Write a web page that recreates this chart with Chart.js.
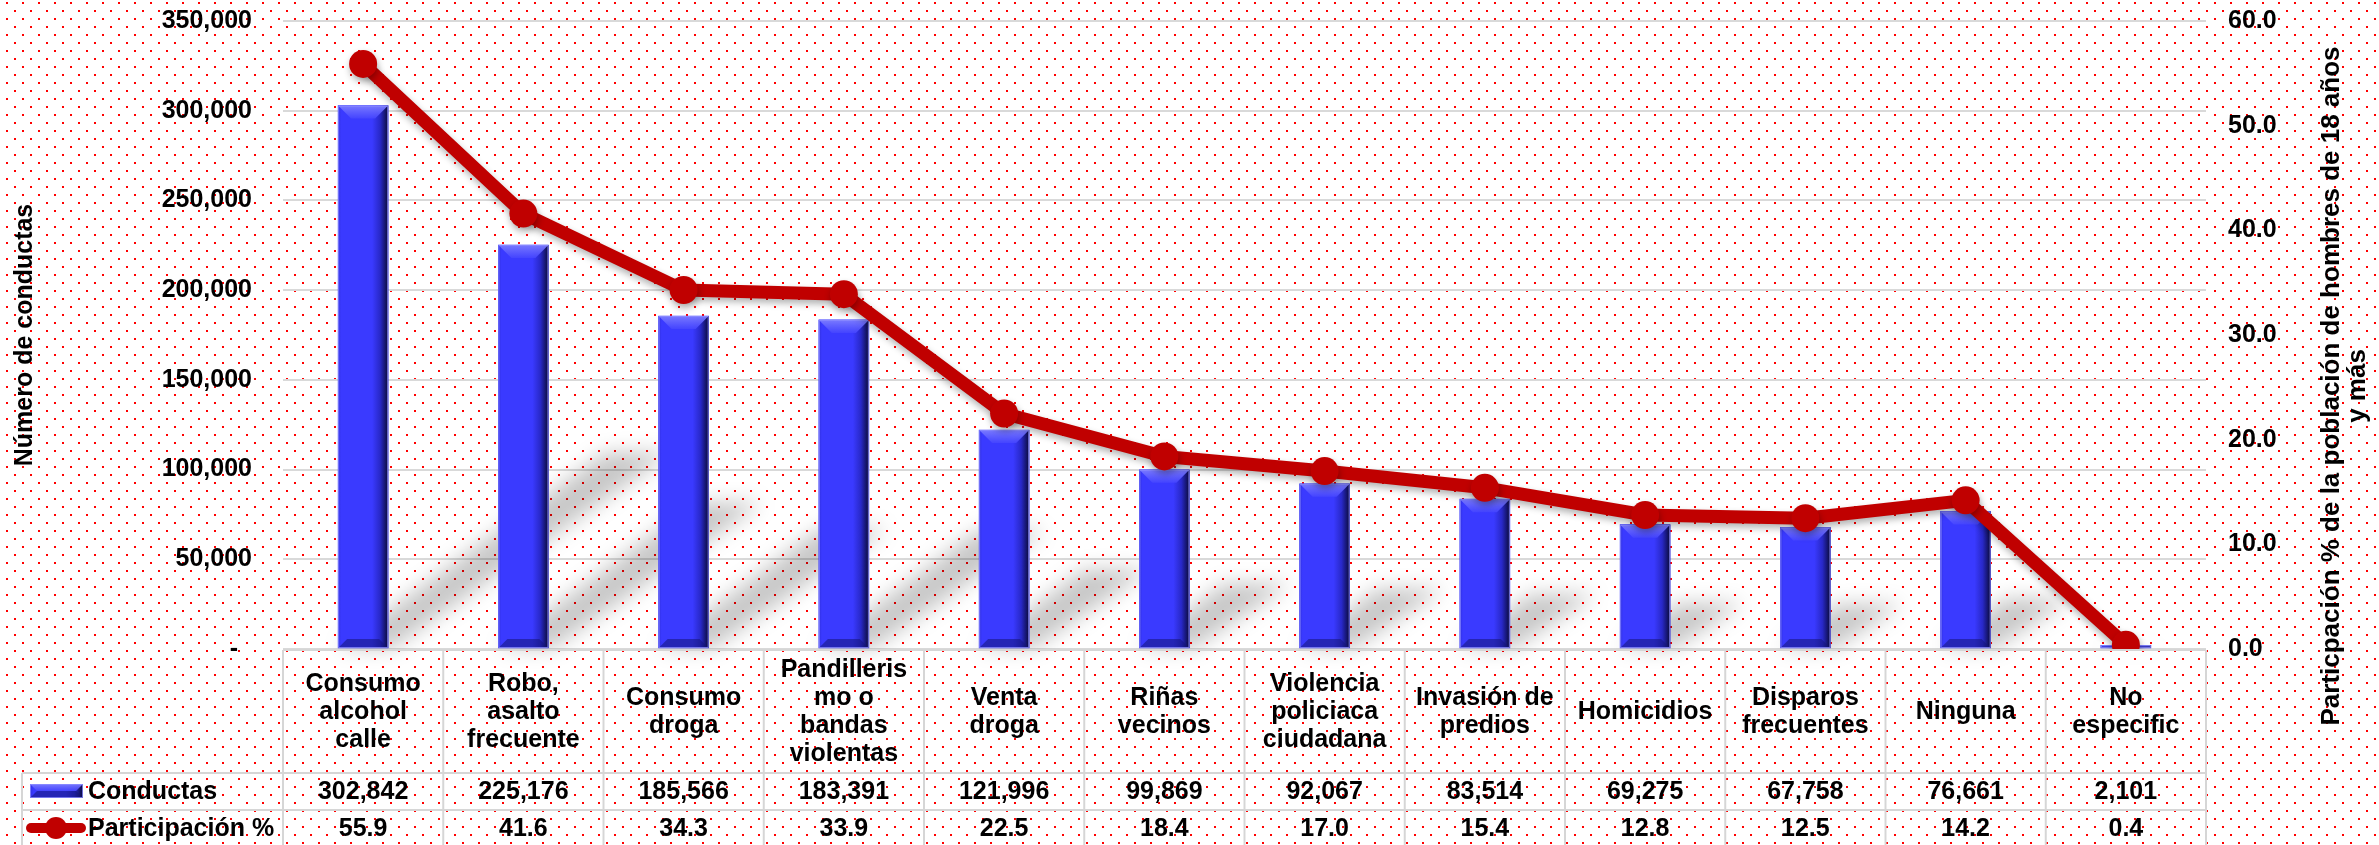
<!DOCTYPE html>
<html><head><meta charset="utf-8">
<script src="https://cdn.jsdelivr.net/npm/chart.js@4/dist/chart.umd.min.js"></script>
<style>html,body{margin:0;padding:0;background:#fff;overflow:hidden}#wrap{width:2379px;height:845px;position:relative}</style>
</head><body><div id="wrap"><canvas id="c" width="2379" height="845"></canvas></div>
<script>
// ---- data ----
const categories = [["Consumo","alcohol","calle"],["Robo,","asalto","frecuente"],["Consumo","droga"],["Pandilleris","mo o","bandas","violentas"],["Venta","droga"],["Riñas","vecinos"],["Violencia","policiaca","ciudadana"],["Invasión de","predios"],["Homicidios"],["Disparos","frecuentes"],["Ninguna"],["No","especific"]];
const conductas = [302842,225176,185566,183391,121996,99869,92067,83514,69275,67758,76661,2101];
const participacion = [55.9,41.6,34.3,33.9,22.5,18.4,17.0,15.4,12.8,12.5,14.2,0.4];
const leftTickLabels = ["-  ","50,000","100,000","150,000","200,000","250,000","300,000","350,000"];
const rightTickLabels = ["0.0","10.0","20.0","30.0","40.0","50.0","60.0"];
const seriesNames = ["Conductas","Participación %"];
const leftTitle = "Número de conductas";
const rightTitle = ["Particpación % de la población de hombres de 18 años","y más"];

const FONT = '"Liberation Sans", Arial, sans-serif';
const BOLD25 = 'bold 25px ' + FONT;
const BLUE = '#3a3aff';
const RED = '#c00000';

function bevelBar(ctx, left, top, w, h) {
  ctx.save();
  let g = ctx.createLinearGradient(left, 0, left + w, 0);
  g.addColorStop(0, '#3030e0');
  g.addColorStop(0.06, '#3a3aff');
  g.addColorStop(0.68, '#3a3aff');
  g.addColorStop(0.84, '#2828c8');
  g.addColorStop(1, '#0a0a38');
  ctx.fillStyle = g;
  ctx.fillRect(left, top, w, h);
  const b = Math.min(13, h / 2, w / 2);
  ctx.beginPath();
  ctx.moveTo(left, top); ctx.lineTo(left + w, top);
  ctx.lineTo(left + w - b, top + b); ctx.lineTo(left + b, top + b); ctx.closePath();
  let g2 = ctx.createLinearGradient(0, top, 0, top + b);
  g2.addColorStop(0, 'rgba(125,125,255,0.95)');
  g2.addColorStop(1, 'rgba(70,70,255,0.85)');
  ctx.fillStyle = g2; ctx.fill();
  const bb = Math.min(9, h / 2);
  ctx.beginPath();
  ctx.moveTo(left, top + h); ctx.lineTo(left + w, top + h);
  ctx.lineTo(left + w - bb, top + h - bb); ctx.lineTo(left + bb, top + h - bb); ctx.closePath();
  ctx.fillStyle = 'rgba(20,20,120,0.55)'; ctx.fill();
  ctx.strokeStyle = 'rgba(140,140,255,0.8)'; ctx.lineWidth = 1;
  ctx.strokeRect(left + 0.5, top + 0.5, w - 1, h - 1);
  ctx.restore();
}

const bgPlugin = {
  id: 'bg',
  beforeDraw(chart) {
    const ctx = chart.ctx;
    const pc = document.createElement('canvas'); pc.width = 16; pc.height = 16;
    const p = pc.getContext('2d');
    p.fillStyle = '#fff'; p.fillRect(0, 0, 16, 16);
    p.fillStyle = '#ff0000'; p.fillRect(6, 2, 2, 2); p.fillRect(14, 10, 2, 2);
    ctx.save();
    ctx.fillStyle = ctx.createPattern(pc, 'repeat');
    ctx.fillRect(0, 0, chart.width, chart.height);
    ctx.restore();
  }
};

const shadowPlugin = {
  id: 'shadows',
  beforeDatasetsDraw(chart) {
    const ctx = chart.ctx;
    const meta = chart.getDatasetMeta(0);
    ctx.save();
    ctx.filter = 'blur(10px)';
    ctx.fillStyle = 'rgba(0,0,0,0.22)';
    meta.data.forEach(el => {
      const {x, y, base, width} = el.getProps(['x', 'y', 'base', 'width'], true);
      const h = base - y;
      const l = x - width / 2, r = x + width / 2 + 4;
      const dx = 0.5 * h, dy = -0.36 * h;
      ctx.beginPath();
      ctx.moveTo(l, base); ctx.lineTo(r, base);
      ctx.lineTo(r + dx + 8, base + dy); ctx.lineTo(l + dx - 4, base + dy);
      ctx.closePath(); ctx.fill();
    });
    ctx.restore();
  },
  beforeDatasetDraw(chart, args) {
    const ctx = chart.ctx;
    ctx.save();
    if (args.index === 1) {
      ctx.shadowColor = 'rgba(0,0,0,0.3)';
      ctx.shadowBlur = 7;
      ctx.shadowOffsetY = 4;
      ctx.shadowOffsetX = 1;
    }
  },
  afterDatasetDraw(chart, args) {
    const ctx = chart.ctx;
    ctx.restore();
    if (args.index === 0) {
      const meta = chart.getDatasetMeta(0);
      meta.data.forEach(el => {
        const {x, y, base, width} = el.getProps(['x', 'y', 'base', 'width'], true);
        bevelBar(ctx, x - width / 2, y, width, base - y);
      });
    }
  }
};

const tablePlugin = {
  id: 'table',
  afterDraw(chart) {
    const ctx = chart.ctx;
    const area = chart.chartArea;
    const xs = chart.scales.x;
    const n = categories.length;
    const colW = (area.right - area.left) / n;
    const top = 650, hdrB = 773, r1B = 810, r2B = 847, legL = 22;
    ctx.save();
    ctx.strokeStyle = '#d6d6d6'; ctx.lineWidth = 2;
    const ln = (a, b, c, d) => { ctx.beginPath(); ctx.moveTo(a, b); ctx.lineTo(c, d); ctx.stroke(); };
    ln(area.left, top, area.right, top);
    ln(legL, hdrB, area.right, hdrB);
    ln(legL, r1B, area.right, r1B);
    ln(legL, r2B, area.right, r2B);
    ln(legL, hdrB, legL, r2B);
    for (let k = 0; k <= n; k++) {
      const xx = area.left + k * colW;
      ln(xx, top, xx, r2B);
    }
    ctx.fillStyle = '#000';
    ctx.font = BOLD25;
    ctx.textAlign = 'center';
    ctx.textBaseline = 'middle';
    const hc = (top + hdrB) / 2 + 1, lh = 28;
    categories.forEach((lines, i) => {
      const cx = xs.getPixelForValue(i);
      const y0 = hc - (lines.length - 1) * lh / 2;
      lines.forEach((t, j) => ctx.fillText(t, cx, y0 + j * lh));
      ctx.fillText(conductas[i].toLocaleString('en-US'), cx, (hdrB + r1B) / 2 + 1);
      ctx.fillText(participacion[i].toFixed(1), cx, (r1B + r2B) / 2 + 1);
    });
    ctx.textAlign = 'left';
    ctx.fillText(seriesNames[0], 88, (hdrB + r1B) / 2 + 1);
    ctx.fillText(seriesNames[1], 88, (r1B + r2B) / 2 + 1);
    bevelBar(ctx, 30, 784, 53, 14);
    ctx.strokeStyle = RED; ctx.lineWidth = 10; ctx.lineCap = 'round';
    ln(31, 828, 81, 828);
    ctx.fillStyle = RED; ctx.beginPath(); ctx.arc(56, 828, 11, 0, Math.PI * 2); ctx.fill();
    // right axis title (reads bottom to top)
    ctx.fillStyle = '#000';
    ctx.font = 'bold 26px ' + FONT;
    ctx.translate(2332, 386);
    ctx.rotate(-Math.PI / 2);
    ctx.textAlign = 'center';
    ctx.fillText(rightTitle[0], 0, 0);
    ctx.fillText(rightTitle[1], 0, 26);
    ctx.restore();
  }
};

new Chart(document.getElementById('c'), {
  type: 'bar',
  data: {
    labels: categories,
    datasets: [
      { type: 'bar', label: seriesNames[0], data: conductas, yAxisID: 'y', backgroundColor: BLUE, barThickness: 50, order: 1, borderWidth: 0 },
      { type: 'line', label: seriesNames[1], data: participacion, yAxisID: 'y1', borderColor: RED, backgroundColor: RED,
        borderWidth: 13, pointRadius: 14, pointHoverRadius: 14, pointBackgroundColor: RED, pointBorderWidth: 0,
        tension: 0, order: 0, borderJoinStyle: 'round', borderCapStyle: 'round', fill: false }
    ]
  },
  options: {
    responsive: false,
    animation: false,
    devicePixelRatio: 1,
    layout: { padding: { top: 21, bottom: 196, left: 0, right: 0 } },
    plugins: { legend: { display: false }, tooltip: { enabled: false } },
    scales: {
      x: { display: false },
      y: {
        position: 'left', min: 0, max: 350000,
        afterFit(s) { s.width = 283; },
        ticks: { stepSize: 50000, padding: 0, color: '#000', font: { family: FONT, size: 25, weight: 'bold' },
          callback: (v, i) => leftTickLabels[i] },
        grid: { color: '#d9d9d9', lineWidth: 2, drawTicks: true, tickLength: 31, tickColor: 'rgba(0,0,0,0)' },
        border: { display: false },
        title: { display: true, text: leftTitle, color: '#000', font: { family: FONT, size: 25, weight: 'bold' }, padding: { top: 10, bottom: 0 } }
      },
      y1: {
        position: 'right', min: 0, max: 60,
        afterFit(s) { s.width = 173; },
        ticks: { stepSize: 10, padding: 0, color: '#000', font: { family: FONT, size: 25, weight: 'bold' },
          callback: (v, i) => rightTickLabels[i] },
        grid: { display: true, drawOnChartArea: false, color: 'rgba(0,0,0,0)', drawTicks: true, tickLength: 22, tickColor: 'rgba(0,0,0,0)' },
        border: { display: false }
      }
    }
  },
  plugins: [bgPlugin, shadowPlugin, tablePlugin]
});
</script></body></html>
